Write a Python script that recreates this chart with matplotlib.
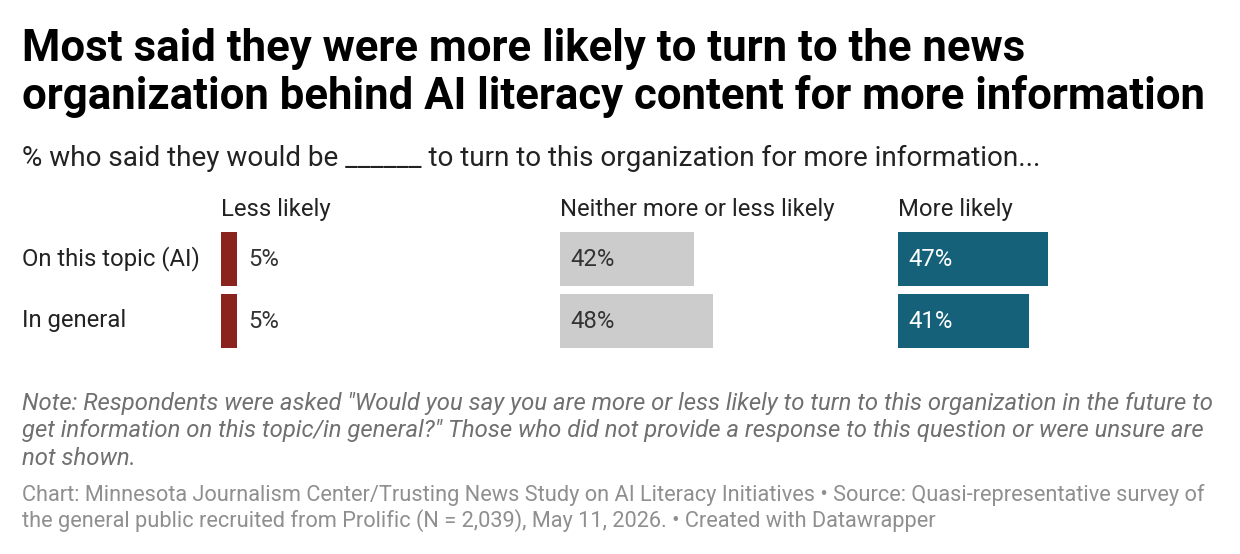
import matplotlib
matplotlib.use("Agg")
import matplotlib.pyplot as plt

plt.rcParams['font.family'] = ['Roboto', 'DejaVu Sans']

categories = ["On this topic (AI)", "In general"]
series_names = ["Less likely", "Neither more or less likely", "More likely"]
less_likely = [5, 5]
neither = [42, 48]
more_likely = [47, 41]
series_values = [less_likely, neither, more_likely]
colors = ["#8a221d", "#cccccc", "#16617a"]
label_colors = ["#333333", "#333333", "#ffffff"]

title_lines = ["Most said they were more likely to turn to the news",
               "organization behind AI literacy content for more information"]
subtitle = "% who said they would be ______ to turn to this organization for more information..."
note_lines = ['Note: Respondents were asked "Would you say you are more or less likely to turn to this organization in the future to',
              'get information on this topic/in general?" Those who did not provide a response to this question or were unsure are',
              'not shown.']
footer_lines = ["Chart: Minnesota Journalism Center/Trusting News Study on AI Literacy Initiatives \u2022 Source: Quasi-representative survey of",
                "the general public recruited from Prolific (N = 2,039), May 11, 2026. \u2022 Created with Datawrapper"]

W, H = 1240, 554
fig = plt.figure(figsize=(W / 100, H / 100), dpi=100)
fig.patch.set_facecolor("white")


def fx(x):
    return x / W


def fy(y):
    return 1 - y / H


def ptext(x, y, s, **kw):
    fig.text(fx(x), fy(y), s, **kw)


# Title
ptext(22, 61, title_lines[0], fontsize=31.5, fontweight='bold', color='#000000', va='baseline')
ptext(22, 109, title_lines[1], fontsize=31.5, fontweight='bold', color='#000000', va='baseline')
# Subtitle
ptext(22, 166, subtitle, fontsize=20.1, color='#222222', va='baseline')

col_left = [221, 560, 898]
col_width = 319
ax_top, ax_bot = 228, 352

for i, (name, vals) in enumerate(zip(series_names, series_values)):
    ax = fig.add_axes([fx(col_left[i]), fy(ax_bot), col_width / W, (ax_bot - ax_top) / H])
    ax.barh(range(len(categories)), vals, height=54 / 62, color=colors[i], left=0)
    ax.set_xlim(0, 100)
    ax.set_ylim(1.5, -0.5)
    ax.axis('off')
    for j, v in enumerate(vals):
        if i == 0:
            ax.text(v + 3.5, j, f"{v}%", va='center', ha='left', fontsize=17.2, color=label_colors[i])
        else:
            ax.text(3.1, j, f"{v}%", va='center', ha='left', fontsize=17.2, color=label_colors[i])
    ptext(col_left[i], 216, name, fontsize=17.2, color='#222222', va='baseline')

row_centers = [259, 321]
for c, yc in zip(categories, row_centers):
    ptext(22, yc, c, fontsize=17.2, color='#222222', va='center')

# Note
for k, line in enumerate(note_lines):
    ptext(22, 410 + k * 27.5, line, fontsize=17.2, style='italic', color='#707070', va='baseline')

# Footer
for k, line in enumerate(footer_lines):
    ptext(22, 501 + k * 26, line, fontsize=15.7, color='#8f8f8f', va='baseline')

fig.savefig("out.png", dpi=100, facecolor="white")
